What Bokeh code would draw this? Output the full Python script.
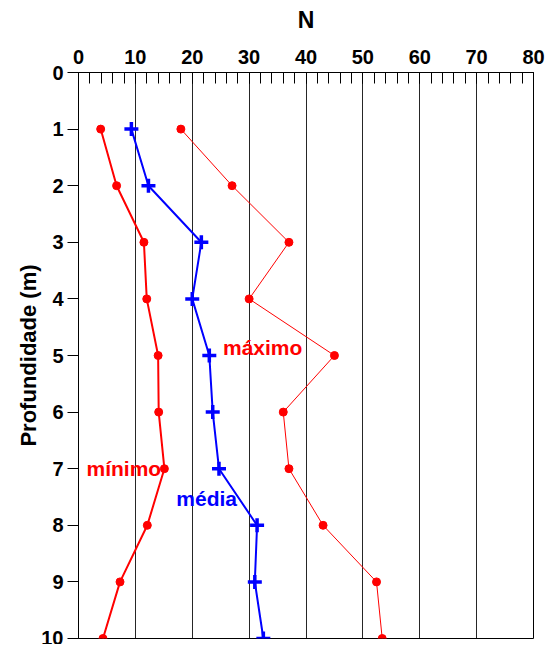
from bokeh.plotting import figure
from bokeh.models import Range1d, FixedTicker, ColumnDataSource
from bokeh.core.properties import value
from bokeh.embed import file_html
from bokeh.resources import INLINE

depth = [1, 2, 3, 4, 5, 6, 7, 8, 9, 10]
minimo = [3.9, 6.7, 11.5, 12.0, 14.0, 14.1, 15.1, 12.1, 7.3, 4.3]
media = [9.3, 12.3, 21.6, 20.0, 23.0, 23.6, 24.7, 31.4, 31.0, 32.5]
maximo = [18.0, 27.0, 37.0, 30.0, 45.0, 36.0, 37.0, 43.0, 52.4, 53.4]

x_ticks = [0, 10, 20, 30, 40, 50, 60, 70, 80]
x_minor = [v for v in range(0, 81, 2)]
y_ticks = [0, 1, 2, 3, 4, 5, 6, 7, 8, 9, 10]

label_text = ["máximo", "mínimo", "média"]
label_x = [25.4, 1.4, 17.2]
label_y = [4.85, 7.0, 7.53]
label_color = ["#ff0000", "#ff0000", "#0000ff"]

FONT = "Liberation Sans"

p = figure(width=546, height=644, output_backend="svg", toolbar_location=None,
           x_axis_location="above",
           x_range=Range1d(0, 80), y_range=Range1d(10, 0),
           min_border_left=78, min_border_right=13, min_border_top=72,
           min_border_bottom=6)

p.outline_line_color = "black"
p.outline_line_width = 1
p.background_fill_color = "white"
p.border_fill_color = "white"

xa = p.xaxis[0]
xa.ticker = FixedTicker(ticks=x_ticks, minor_ticks=x_minor)
xa.axis_label = "N"
xa.axis_label_text_font = FONT
xa.axis_label_text_font_style = "bold"
xa.axis_label_text_font_size = "23px"
xa.axis_label_text_color = "black"
xa.axis_label_standoff = 14
xa.major_label_text_font = FONT
xa.major_label_text_font_style = "bold"
xa.major_label_text_font_size = "20px"
xa.major_label_text_color = "black"
xa.major_label_standoff = 9
xa.major_tick_in = 11
xa.major_tick_out = 0
xa.minor_tick_in = 11
xa.minor_tick_out = 0
xa.axis_line_color = "black"
xa.major_tick_line_color = "black"
xa.minor_tick_line_color = "black"

ya = p.yaxis[0]
ya.ticker = FixedTicker(ticks=y_ticks)
ya.axis_label = "Profundidade (m)"
ya.axis_label_text_font = FONT
ya.axis_label_text_font_style = "bold"
ya.axis_label_text_font_size = "22px"
ya.axis_label_text_color = "black"
ya.axis_label_standoff = -3
ya.major_label_text_font = FONT
ya.major_label_text_font_style = "bold"
ya.major_label_text_font_size = "20px"
ya.major_label_text_color = "black"
ya.major_label_standoff = 4
ya.major_tick_in = 0
ya.major_tick_out = 11
ya.minor_tick_line_color = None
ya.axis_line_color = "black"
ya.major_tick_line_color = "black"

p.xgrid.grid_line_color = "black"
p.xgrid.grid_line_width = 1
p.xgrid.grid_line_alpha = 0.85
p.ygrid.grid_line_color = None

src = ColumnDataSource(dict(depth=depth, minimo=minimo, media=media, maximo=maximo))

p.line("maximo", "depth", source=src, line_color="#ff0000", line_width=1)
p.scatter("maximo", "depth", source=src, marker="circle", size=8,
          fill_color="#ff0000", line_color="#ff0000")

p.line("minimo", "depth", source=src, line_color="#ff0000", line_width=2)
p.scatter("minimo", "depth", source=src, marker="circle", size=8,
          fill_color="#ff0000", line_color="#ff0000")

p.line("media", "depth", source=src, line_color="#0000ff", line_width=2)
p.scatter("media", "depth", source=src, marker="cross", size=14,
          line_color="#0000ff", line_width=3.5)

lsrc = ColumnDataSource(dict(x=label_x, y=label_y, t=label_text, c=label_color))
p.text("x", "y", text="t", source=lsrc, text_color="c",
       text_font=value(FONT), text_font_style="bold", text_font_size="21px",
       text_align="left", text_baseline="middle")

open("out.html", "w").write(file_html(p, INLINE))
